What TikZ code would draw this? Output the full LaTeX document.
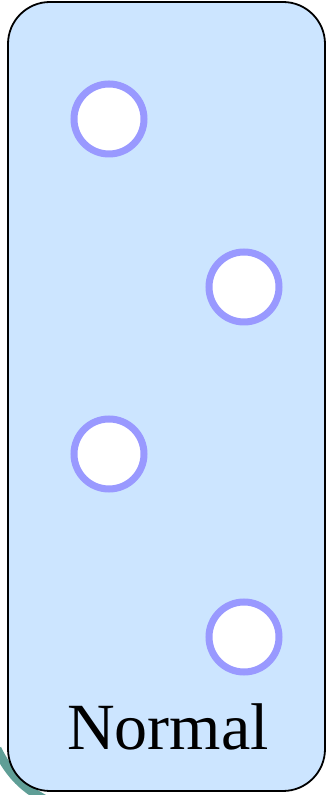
\documentclass[tikz,border=0pt]{standalone}
\usepackage{fontspec}
\setmainfont{Liberation Serif}
\usepackage{tikz}
\definecolor{panelblue}{HTML}{CCE5FF}
\definecolor{ringblue}{HTML}{9999FF}
\definecolor{arcteal}{HTML}{5F9E96}

\begin{document}
\begin{tikzpicture}[x=1pt,y=1pt,
    ring/.style={circle, draw=ringblue, fill=white, line width=7pt, minimum size=70pt, inner sep=0pt}]
    \useasboundingbox (0,0) rectangle (327,795);

    % piece of the outer arc, behind the panel
    \begin{scope}
        \clip (0,0) rectangle (327,795);
        \draw[arcteal, line width=9pt] (-3,46) .. controls (8,24) and (20,9) .. (44,-4);
    \end{scope}

    \draw[fill=panelblue, line width=1.8pt, rounded corners=42pt] (8,4) rectangle (325,793);

    \node[ring] (r1) at (109,676) {};
    \node[ring] (r2) at (244,508) {};
    \node[ring] (r3) at (109,341) {};
    \node[ring] (r4) at (244,158) {};

    \node[anchor=base, font=\fontsize{66}{66}\selectfont] (lbl) at (168,45) {Normal};
\end{tikzpicture}
\end{document}
